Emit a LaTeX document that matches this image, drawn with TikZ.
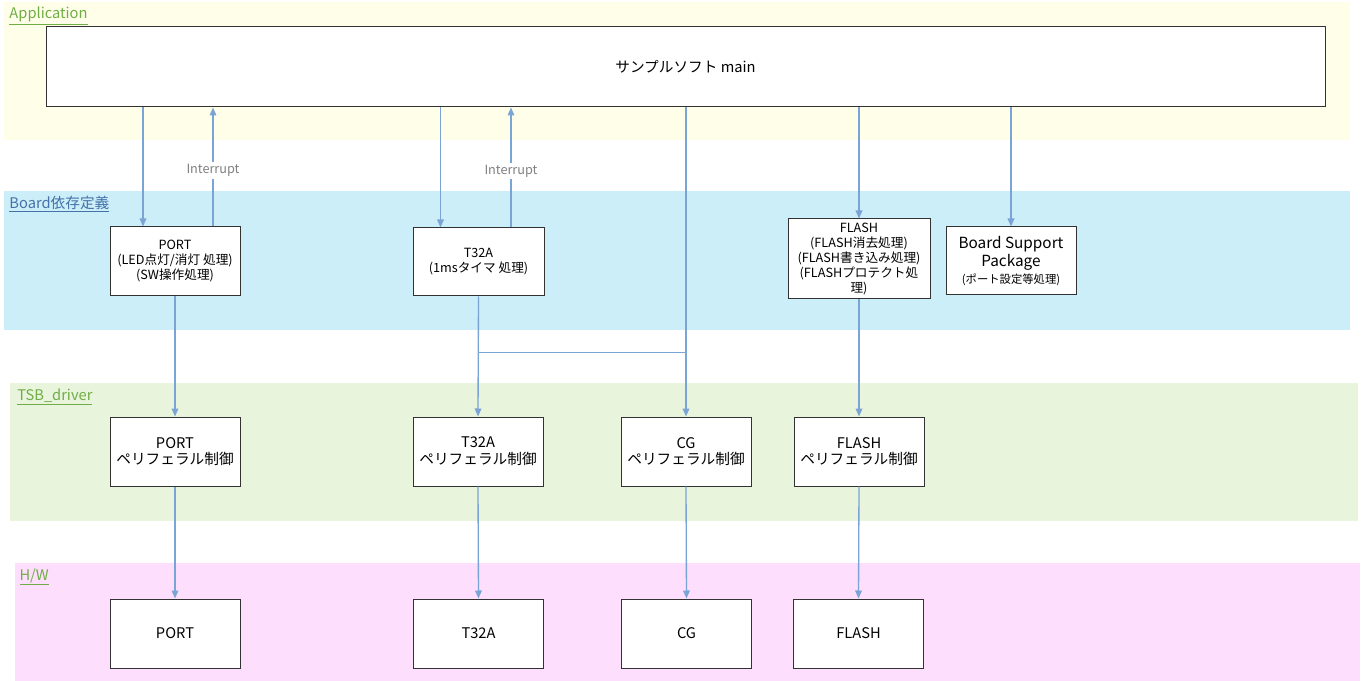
\documentclass[tikz,border=0pt]{standalone}
\usepackage{fontspec}
\setmainfont{Noto Sans CJK JP}
\usetikzlibrary{arrows.meta,calc}
\tikzset{every picture/.style={line width=0.75pt}}
\definecolor{appband}{RGB}{255,255,233}
\definecolor{boardband}{RGB}{204,238,249}
\definecolor{drvband}{RGB}{232,244,220}
\definecolor{hwband}{RGB}{253,223,253}
\definecolor{tiergreen}{RGB}{112,173,71}
\definecolor{tierblue}{RGB}{68,114,168}
\definecolor{flowblue}{RGB}{122,164,214}
\definecolor{irqgray}{RGB}{128,128,128}
\tikzset{
  blk/.style={draw={rgb,255:red,50;green,50;blue,50},fill=white,line width=0.75pt,
    minimum width=97.5pt,minimum height=51.75pt,inner sep=2pt,align=center,
    font=\fontsize{11}{12.5}\selectfont},
  bdblk/.style={blk,font=\fontsize{9.5}{11.25}\selectfont},
  flow/.style={draw=flowblue,line width=1pt,-{Triangle[length=6pt,width=5pt]}},
  tier/.style={anchor=west,inner sep=0.75pt,font=\fontsize{11}{12}\selectfont},
  irq/.style={fill=white,text=irqgray,inner sep=1.5pt,font=\fontsize{9.5}{11}\selectfont}
}

\begin{document}
\begin{tikzpicture}[x=0.75pt,y=0.75pt,yscale=-1,xscale=1]
\useasboundingbox (0,0) rectangle (1365,681);

%Shape: Rectangle [bands]
\fill[appband] (4,2) rectangle (1350,140);
\fill[boardband] (4,191) rectangle (1350,330);
\fill[drvband] (10,383) rectangle (1358,521);
\fill[hwband] (15,563) rectangle (1360,681);

% Text Node
\node[tier,text=tiergreen] (tapp) at (8,16) {\underline{Application}};
\node[tier,text=tierblue] (tboard) at (8,204) {\underline{Board依存定義}};
\node[tier,text=tiergreen] (tdrv) at (16,397) {\underline{TSB\_driver}};
\node[tier,text=tiergreen] (thw) at (18,577) {\underline{H/W}};

%Shape: Rectangle [main]
\node[blk,minimum width=959.25pt,minimum height=60pt] (main) at (685.5,67) {サンプルソフト main};

%Shape: Rectangle [board]
\node[bdblk] (portb) at (175,261.5) {PORT\\(LED点灯/消灯 処理)\\(SW操作処理)};
\node[bdblk,minimum width=98.25pt,minimum height=51pt] (t32b) at (478.5,262) {T32A\\(1msタイマ 処理)};
\node[bdblk,minimum width=106.5pt,minimum height=60pt,inner sep=1pt] (flashb) at (859,259) {FLASH\\(FLASH消去処理)\\(FLASH書き込み処理)\\(FLASHプロテクト処\\理)};
\node[blk,minimum height=51pt,font=\fontsize{11.5}{13.5}\selectfont] (bsp) at (1011,261) {Board Support\\Package\\[-1pt]{\fontsize{8.5}{10}\selectfont(ポート設定等処理)}};

%Shape: Rectangle [driver]
\node[blk] (portd) at (175,451.5) {PORT\\ペリフェラル制御};
\node[blk] (t32d) at (478,451.5) {T32A\\ペリフェラル制御};
\node[blk] (cgd) at (686,451.5) {CG\\ペリフェラル制御};
\node[blk] (flashd) at (859,451.5) {FLASH\\ペリフェラル制御};

%Shape: Rectangle [hw]
\node[blk] (porth) at (175,633.5) {PORT};
\node[blk] (t32h) at (478.5,633.5) {T32A};
\node[blk] (cgh) at (686.5,633.5) {CG};
\node[blk] (flashh) at (858.5,633.5) {FLASH};

% coordinates for the side arrows
\coordinate (pdn) at ($(portb.north)+(-32,0)$);
\coordinate (pup) at ($(portb.north)+(38,0)$);
\coordinate (tdn) at ($(t32b.north)+(-38,0)$);
\coordinate (tup) at ($(t32b.north)+(32.5,0)$);
\coordinate (tj) at ($(t32b.south)+(0,56)$);

%Straight Lines [main to board]
\draw[flow] (main.south -| pdn) -- (pdn);
\draw[flow] (pup) -- node[irq,pos=0.47] {Interrupt} (main.south -| pup);
\draw[flow] (main.south -| tdn) -- (tdn);
\draw[flow] (tup) -- node[irq,pos=0.47] {Interrupt} (main.south -| tup);
\draw[flow] (main.south -| cgd.north) -- (cgd.north);
\draw[flow] (main.south -| flashb.north) -- (flashb.north);
\draw[flow] (main.south -| bsp.north) -- (bsp.north);

%Straight Lines [board to driver]
\draw[flow] (portb.south) -- (portd.north);
\draw[flow] (t32b.south) -- (t32d.north);
\draw[draw=flowblue,line width=1pt] (tj) -- (tj -| cgd.north);
\draw[flow] (flashb.south) -- (flashd.north);

%Straight Lines [driver to hw]
\draw[flow] (portd.south) -- (porth.north);
\draw[flow] (t32d.south) -- (t32h.north);
\draw[flow] (cgd.south) -- (cgh.north);
\draw[flow] (flashd.south) -- (flashh.north);

\end{tikzpicture}
\end{document}
